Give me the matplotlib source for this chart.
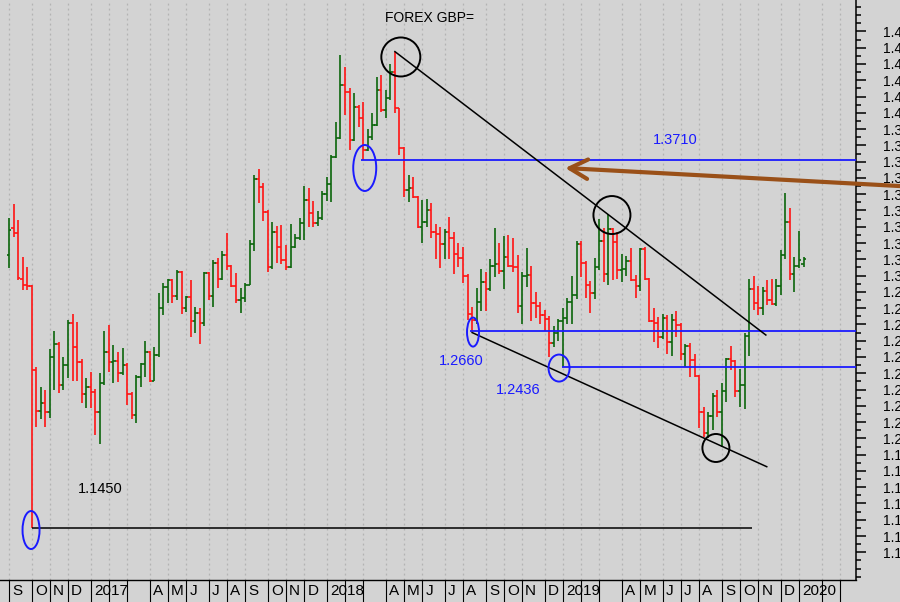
import matplotlib

matplotlib.use("Agg")
import matplotlib.dates as mdates
import matplotlib.pyplot as plt
import numpy as np
import pandas as pd
from matplotlib.patches import Ellipse

plt.rcParams["font.family"] = ["Liberation Sans", "DejaVu Sans"]

# weekly bars, dated on the Friday that ends each week
weeks = pd.date_range("2016-09-02", "2020-01-10", freq="W-FRI")

opens = [
    1.3127, 1.3290, 1.3260, 1.2980, 1.2942, 1.2935, 1.2420, 1.2170, 1.2215, 1.2164,
    1.2502, 1.2580, 1.2328, 1.2451, 1.2711, 1.2559, 1.2471, 1.2273, 1.2318, 1.2287,
    1.2164, 1.2338, 1.2531, 1.2471, 1.2477, 1.2400, 1.2451, 1.2273, 1.2144, 1.2379,
    1.2457, 1.2529, 1.2354, 1.2512, 1.2799, 1.2932, 1.2973, 1.2875, 1.3024, 1.2799,
    1.2871, 1.2723, 1.2768, 1.2707, 1.3018, 1.2875, 1.3080, 1.2977, 1.3126, 1.3059,
    1.2936, 1.2850, 1.2860, 1.2942, 1.3194, 1.3591, 1.3546, 1.3392, 1.3050, 1.3270,
    1.3177, 1.3095, 1.3054, 1.3177, 1.3229, 1.3325, 1.3464, 1.3382, 1.3325, 1.3351,
    1.3500, 1.3562, 1.3726, 1.3843, 1.4171, 1.4130, 1.3833, 1.4037, 1.3966, 1.3771,
    1.3850, 1.3925, 1.4140, 1.4017, 1.4089, 1.4253, 1.4027, 1.3782, 1.3526, 1.3536,
    1.3485, 1.3300, 1.3331, 1.3405, 1.3270, 1.3255, 1.3195, 1.3265, 1.3230, 1.3135,
    1.3110, 1.2995, 1.2765, 1.2730, 1.2835, 1.2960, 1.2915, 1.3060, 1.3070, 1.3030,
    1.3115, 1.3060, 1.3055, 1.2815, 1.2995, 1.3005, 1.2830, 1.2812, 1.2755, 1.2735,
    1.2585, 1.2645, 1.2720, 1.2740, 1.2840, 1.2880, 1.3195, 1.3075, 1.2940, 1.2890,
    1.3050, 1.3210, 1.3010, 1.3285, 1.3205, 1.3035, 1.3040, 1.3090, 1.2975, 1.2935,
    1.3165, 1.2980, 1.2720, 1.2710, 1.2620, 1.2740, 1.2595, 1.2725, 1.2695, 1.2520,
    1.2570, 1.2480, 1.2385, 1.2160, 1.2030, 1.2140, 1.2260, 1.2160, 1.2290, 1.2490,
    1.2475, 1.2290, 1.2330, 1.2630, 1.2920, 1.2830, 1.2800, 1.2905, 1.2850, 1.2825,
    1.2935, 1.3125, 1.3330, 1.3010, 1.3060, 1.3070,
]
highs = [
    1.3352, 1.3440, 1.3341, 1.3112, 1.3051, 1.2945, 1.2441, 1.2318, 1.2297, 1.2547,
    1.2662, 1.2594, 1.2498, 1.2727, 1.2764, 1.2717, 1.2485, 1.2369, 1.2410, 1.2301,
    1.2400, 1.2662, 1.2697, 1.2572, 1.2533, 1.2553, 1.2461, 1.2287, 1.2389, 1.2461,
    1.2600, 1.2539, 1.2563, 1.2895, 1.2953, 1.2977, 1.2977, 1.3034, 1.3030, 1.2875,
    1.2973, 1.2805, 1.2799, 1.3024, 1.3020, 1.3096, 1.3106, 1.3153, 1.3263, 1.3065,
    1.3018, 1.2921, 1.2952, 1.3218, 1.3618, 1.3652, 1.3567, 1.3403, 1.3331, 1.3304,
    1.3310, 1.3188, 1.3317, 1.3255, 1.3351, 1.3550, 1.3536, 1.3460, 1.3399, 1.3520,
    1.3607, 1.3741, 1.3945, 1.4355, 1.4283, 1.4150, 1.4119, 1.4048, 1.4068, 1.3900,
    1.3997, 1.4218, 1.4232, 1.4140, 1.4300, 1.4376, 1.4030, 1.3792, 1.3618, 1.3607,
    1.3490, 1.3464, 1.3468, 1.3445, 1.3315, 1.3300, 1.3285, 1.3362, 1.3265, 1.3200,
    1.3175, 1.3010, 1.2810, 1.2925, 1.3043, 1.3025, 1.3100, 1.3295, 1.3200, 1.3245,
    1.3250, 1.3230, 1.3125, 1.3020, 1.3170, 1.3060, 1.2900, 1.2840, 1.2790, 1.2750,
    1.2690, 1.2735, 1.2800, 1.2865, 1.3000, 1.3215, 1.3210, 1.3090, 1.2965, 1.3110,
    1.3345, 1.3290, 1.3381, 1.3290, 1.3270, 1.3130, 1.3120, 1.3170, 1.3004, 1.3170,
    1.3175, 1.2985, 1.2799, 1.2748, 1.2765, 1.2760, 1.2765, 1.2785, 1.2710, 1.2580,
    1.2585, 1.2520, 1.2388, 1.2195, 1.2164, 1.2280, 1.2300, 1.2340, 1.2495, 1.2567,
    1.2481, 1.2426, 1.2645, 1.2977, 1.2995, 1.2936, 1.2932, 1.2973, 1.2977, 1.2977,
    1.3157, 1.3509, 1.3413, 1.3116, 1.3274, 1.3112,
]
lows = [
    1.3045, 1.3235, 1.2975, 1.2911, 1.2911, 1.1450, 1.2068, 1.2117, 1.2068, 1.2123,
    1.2297, 1.2281, 1.2297, 1.2373, 1.2355, 1.2355, 1.2215, 1.2185, 1.2185, 1.2021,
    1.1966, 1.2330, 1.2410, 1.2338, 1.2348, 1.2389, 1.2205, 1.2117, 1.2092, 1.2318,
    1.2379, 1.2348, 1.2350, 1.2502, 1.2758, 1.2830, 1.2830, 1.2850, 1.2764, 1.2778,
    1.2625, 1.2645, 1.2580, 1.2690, 1.2850, 1.2805, 1.2921, 1.2973, 1.3034, 1.2928,
    1.2829, 1.2768, 1.2840, 1.2940, 1.3153, 1.3448, 1.3337, 1.3020, 1.3040, 1.3079,
    1.3071, 1.3034, 1.3045, 1.3167, 1.3218, 1.3218, 1.3300, 1.3300, 1.3306, 1.3340,
    1.3460, 1.3454, 1.3720, 1.3840, 1.3986, 1.3771, 1.3829, 1.3915, 1.3710, 1.3765,
    1.3830, 1.3920, 1.4007, 1.3966, 1.4078, 1.3997, 1.3741, 1.3485, 1.3454, 1.3474,
    1.3290, 1.3198, 1.3300, 1.3230, 1.3100, 1.3048, 1.3105, 1.3100, 1.3010, 1.3055,
    1.2955, 1.2725, 1.2660, 1.2705, 1.2785, 1.2785, 1.2905, 1.2990, 1.3010, 1.2915,
    1.3050, 1.3025, 1.2770, 1.2705, 1.2930, 1.2722, 1.2740, 1.2705, 1.2660, 1.2500,
    1.2560, 1.2600, 1.2436, 1.2700, 1.2700, 1.2855, 1.2990, 1.2860, 1.2770, 1.2855,
    1.3035, 1.2960, 1.2945, 1.2975, 1.2980, 1.2960, 1.3000, 1.2965, 1.2865, 1.2905,
    1.2970, 1.2715, 1.2594, 1.2553, 1.2610, 1.2520, 1.2505, 1.2620, 1.2480, 1.2440,
    1.2380, 1.2380, 1.2065, 1.2010, 1.2005, 1.2050, 1.2129, 1.1950, 1.2225, 1.2420,
    1.2256, 1.2195, 1.2178, 1.2506, 1.2790, 1.2758, 1.2758, 1.2819, 1.2819, 1.2815,
    1.2881, 1.3100, 1.2973, 1.2901, 1.3045, 1.3055,
]
closes = [
    1.3280, 1.3260, 1.2983, 1.2942, 1.2935, 1.2420, 1.2170, 1.2215, 1.2164, 1.2502,
    1.2580, 1.2328, 1.2451, 1.2711, 1.2559, 1.2471, 1.2273, 1.2318, 1.2287, 1.2164,
    1.2338, 1.2531, 1.2471, 1.2477, 1.2400, 1.2451, 1.2273, 1.2144, 1.2379, 1.2457,
    1.2529, 1.2354, 1.2512, 1.2799, 1.2932, 1.2973, 1.2875, 1.3024, 1.2799, 1.2871,
    1.2723, 1.2768, 1.2707, 1.3018, 1.2875, 1.3080, 1.2977, 1.3126, 1.3059, 1.2936,
    1.2850, 1.2860, 1.2942, 1.3194, 1.3591, 1.3546, 1.3392, 1.3050, 1.3270, 1.3177,
    1.3095, 1.3054, 1.3177, 1.3229, 1.3325, 1.3464, 1.3382, 1.3325, 1.3351, 1.3500,
    1.3562, 1.3726, 1.3843, 1.4171, 1.4130, 1.3833, 1.4037, 1.3966, 1.3771, 1.3850,
    1.3925, 1.4140, 1.4017, 1.4089, 1.4253, 1.4027, 1.3782, 1.3526, 1.3536, 1.3485,
    1.3300, 1.3331, 1.3405, 1.3270, 1.3255, 1.3195, 1.3265, 1.3230, 1.3135, 1.3110,
    1.2995, 1.2765, 1.2730, 1.2835, 1.2960, 1.2915, 1.3060, 1.3070, 1.3030, 1.3115,
    1.3060, 1.3055, 1.2815, 1.2995, 1.3005, 1.2830, 1.2812, 1.2755, 1.2735, 1.2585,
    1.2645, 1.2720, 1.2740, 1.2840, 1.2880, 1.3195, 1.3075, 1.2940, 1.2890, 1.3050,
    1.3210, 1.3010, 1.3285, 1.3205, 1.3035, 1.3040, 1.3090, 1.2975, 1.2935, 1.3165,
    1.2980, 1.2720, 1.2710, 1.2620, 1.2740, 1.2595, 1.2725, 1.2695, 1.2520, 1.2570,
    1.2480, 1.2385, 1.2160, 1.2030, 1.2140, 1.2260, 1.2160, 1.2290, 1.2490, 1.2475,
    1.2290, 1.2330, 1.2630, 1.2920, 1.2830, 1.2800, 1.2905, 1.2850, 1.2825, 1.2935,
    1.3125, 1.3330, 1.3010, 1.3060, 1.3095, 1.3105,
]

# marked levels
support_lo = 1.1450
level_feb18 = 1.3710
level_aug18 = 1.2660
level_jan19 = 1.2436

MONTH_LETTERS = "JFMAMJJASOND"
BG = "#d3d3d3"
UP, DOWN = "#0b650b", "#ff1414"
BLUE = "#1a1aff"
BROWN = "#9a5018"

W, H = 900, 602
fig = plt.figure(figsize=(W / 100, H / 100), dpi=100, facecolor=BG)
ax_w, ax_h, strip = 856, 580, 22
ax = fig.add_axes([0, strip / H, ax_w / W, ax_h / H], facecolor=BG)

x = mdates.date2num(weeks)
t0 = x[0]
xmin, xmax = t0 - 13.9, t0 + 1305.9
ymin, ymax = 1.1130, 1.4693
ax.set_xlim(xmin, xmax)
ax.set_ylim(ymin, ymax)
dpx = (xmax - xmin) / ax_w          # days per pixel
ppx = (ymax - ymin) / ax_h          # price per pixel


def wx(n):
    """x position of (fractional) week index n."""
    return t0 + 7 * n


o, hi, lo, c = map(np.asarray, (opens, highs, lows, closes))
col = np.where(c >= o, UP, DOWN)
tick = 2.4 * dpx
ax.vlines(x, lo, hi, colors=col, lw=1.2, zorder=3)
ax.hlines(o, x - tick, x, colors=col, lw=1.2, zorder=3)
ax.hlines(c, x, x + tick, colors=col, lw=1.2, zorder=3)

# month separators / dotted grid
cal = pd.date_range(weeks[0], "2020-03-31", freq="W-FRI").to_series()
firsts = cal.groupby(cal.dt.to_period("M")).first()
strip_tf = ax.get_xaxis_transform()
for d in firsts:
    xm = mdates.date2num(d)
    ax.axvline(xm, color="#b3b3b3", lw=0.9, ls=(0, (1.5, 2.5)), zorder=1)
    ax.plot([xm, xm], [0, -strip / ax_h], transform=strip_tf, color="black",
            lw=0.8, clip_on=False)
    if d.month in (2, 3):
        continue
    lab = str(d.year) if d.month == 1 else MONTH_LETTERS[d.month - 1]
    ax.text(xm + 3.2 * dpx, -11 / ax_h, lab, transform=strip_tf, fontsize=11,
            va="center", ha="left", clip_on=False)

# right price scale
ax.yaxis.tick_right()
ax.set_yticks(np.round(np.arange(1.13, 1.4501, 0.01), 2))
ax.set_yticks(np.arange(1.115, 1.466, 0.005), minor=True)
ax.yaxis.set_major_formatter(plt.FuncFormatter(lambda v, _: f"{v:.2f}"))
ax.tick_params(axis="y", which="major", length=7.5, width=1.1, pad=12,
               labelsize=10)
ax.tick_params(axis="y", which="minor", length=3.8, width=1.1)
ax.set_xticks([])
for s in ("top", "left"):
    ax.spines[s].set_visible(False)
ax.spines["right"].set_linewidth(1.1)
ax.spines["bottom"].set_linewidth(1.0)

# horizontal levels
ax.hlines(level_feb18, wx(78) - tick, xmax, color=BLUE, lw=1.3, zorder=4)
ax.hlines(level_aug18, wx(102) - tick, xmax, color=BLUE, lw=1.3, zorder=4)
ax.hlines(level_jan19, wx(121.7), xmax, color=BLUE, lw=1.3, zorder=4)
ax.hlines(support_lo, wx(5), wx(163.7), color="black", lw=1.1, zorder=4)

# trend lines from the April 2018 high and the August 2018 low
ax.plot([wx(85), wx(166.7)], [highs[85], 1.2635], color="black", lw=1.1,
        zorder=4)
ax.plot([wx(102), wx(166.9)], [1.2650, 1.1826], color="black", lw=1.1,
        zorder=4)

# highlighted turning points: (week, price, width px, height px, colour)
marks = [
    (4.85, 1.1437, 17, 38, BLUE),
    (78.35, 1.3661, 23, 46, BLUE),
    (86.3, 1.4343, 39, 39, "black"),
    (102.2, 1.2653, 12, 29, BLUE),
    (121.15, 1.2432, 21, 27, BLUE),
    (132.8, 1.3372, 37, 38, "black"),
    (155.7, 1.1941, 27, 28, "black"),
]
for n, p, wpx, hpx, ec in marks:
    ax.add_patch(Ellipse((wx(n), p), wpx * dpx, hpx * ppx, fill=False,
                         ec=ec, lw=1.4, zorder=5))

ax.annotate("", xy=(wx(122.5), 1.3661), xytext=(wx(196.3), 1.3550),
            annotation_clip=False, zorder=6,
            arrowprops=dict(arrowstyle="->,head_length=1.3,head_width=0.7",
                            color=BROWN, lw=3, shrinkA=0, shrinkB=0))

ax.text(wx(146.7), 1.3833, f"{level_feb18:.4f}", color=BLUE, fontsize=10.5,
        ha="center", va="center")
ax.text(wx(99.6), 1.2475, f"{level_aug18:.4f}", color=BLUE, fontsize=10.5,
        ha="center", va="center")
ax.text(wx(112.1), 1.2297, f"{level_jan19:.4f}", color=BLUE, fontsize=10.5,
        ha="center", va="center")
ax.text(wx(20.0), 1.1689, f"{support_lo:.4f}", color="black", fontsize=10.5,
        ha="center", va="center")
ax.text(385 / ax_w, 1 - 18 / ax_h, "FOREX GBP=", transform=ax.transAxes,
        fontsize=10, ha="left", va="center")

fig.savefig("out.png", dpi=100, facecolor=BG)
